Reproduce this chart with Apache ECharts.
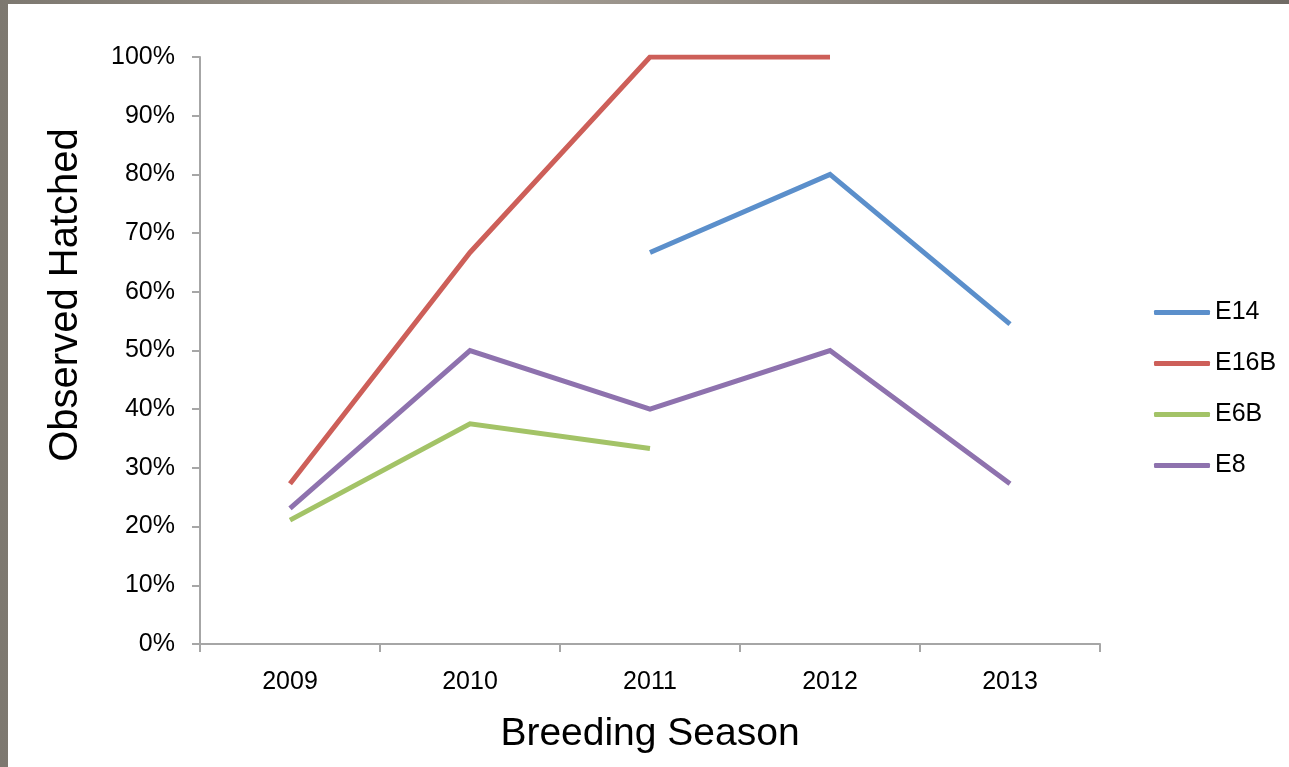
<!DOCTYPE html>
<html><head><meta charset="utf-8">
<script src="https://cdn.jsdelivr.net/npm/echarts@6/dist/echarts.min.js"></script>
<style>
html,body{margin:0;padding:0;width:1289px;height:767px;overflow:hidden;
background:linear-gradient(90deg,#7d7870,#a29b92 40%,#6f6a64);}
#c{position:absolute;left:8px;top:4px;width:1281px;height:763px;background:#fff;}
</style></head>
<body><div id="c"></div>
<script>
const seasons = ['2009','2010','2011','2012','2013'];
const seriesNames = ['E14','E16B','E6B','E8'];
const e14  = [null, null, 66.7, 80, 54.5];
const e16b = [27.3, 66.7, 100, 100, null];
const e6b  = [21.1, 37.5, 33.3, null, null];
const e8   = [23.1, 50, 40, 50, 27.3];
const colors = ['#5b8fcb','#cd5f59','#a3c367','#8e72ae'];
const values = [e14, e16b, e6b, e8];

const chart = echarts.init(document.getElementById('c'));
const font = 'Liberation Sans, Arial, sans-serif';
chart.setOption({
  backgroundColor: '#ffffff',
  animation: false,
  color: colors,
  grid: {left: 192, right: 189, top: 53, bottom: 123},
  legend: {
    orient: 'vertical', left: 1141, top: 291,
    icon: 'roundRect',
    itemWidth: 56, itemHeight: 5, itemGap: 26,
    textStyle: {fontFamily: font, fontSize: 25, color: '#000', lineHeight: 25},
    data: seriesNames
  },
  xAxis: {
    type: 'category', data: seasons, boundaryGap: true,
    axisLine: {lineStyle: {color: '#a6a6a6', width: 2}},
    axisTick: {show: true, length: 8, lineStyle: {color: '#a6a6a6', width: 2}},
    axisLabel: {fontFamily: font, fontSize: 25, color: '#000', margin: 26},
    name: 'Breeding Season', nameLocation: 'middle', nameGap: 71,
    nameTextStyle: {fontFamily: font, fontSize: 39, color: '#000'}
  },
  yAxis: {
    type: 'value', min: 0, max: 100, interval: 10,
    splitLine: {show: false},
    axisLine: {show: true, lineStyle: {color: '#a6a6a6', width: 2}},
    axisTick: {show: true, length: 8, lineStyle: {color: '#a6a6a6', width: 2}},
    axisLabel: {fontFamily: font, fontSize: 25, color: '#000', margin: 25, formatter: '{value}%'}
  },
  graphic: [{
    type: 'text', x: 58, y: 291, rotation: Math.PI/2,
    style: {text: 'Observed Hatched', fontFamily: font, fontSize: 40, fill: '#000',
            align: 'center', verticalAlign: 'middle'}
  }],
  series: seriesNames.map((n, i) => ({
    name: n, type: 'line', data: values[i], symbol: 'none',
    connectNulls: false,
    lineStyle: {width: 5, color: colors[i], join: 'miter'},
    itemStyle: {color: colors[i]}
  }))
});
</script></body></html>
